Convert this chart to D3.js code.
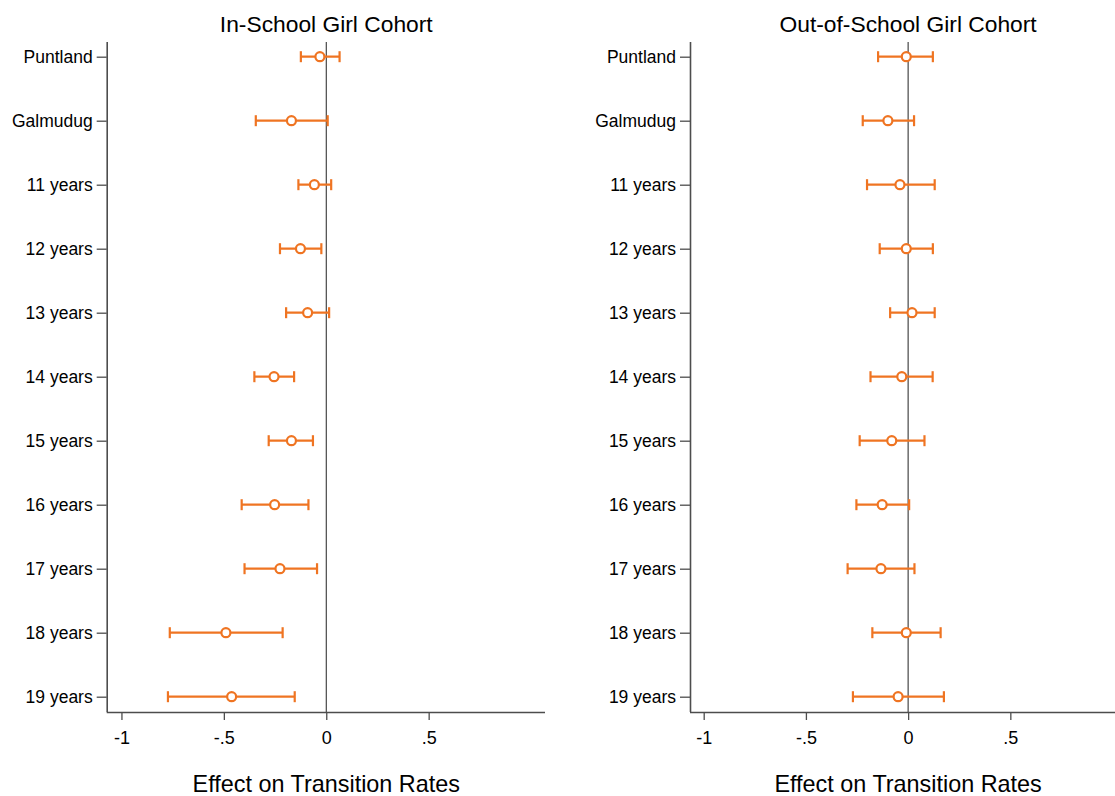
<!DOCTYPE html>
<html>
<head>
<meta charset="utf-8">
<script src="https://cdn.jsdelivr.net/npm/d3@7"></script>
<style>
  body { margin: 0; background: #fff; }
  svg { font-family: "Liberation Sans", Arial, sans-serif; }
</style>
</head>
<body>
<div id="graph"></div>
<script>
var categories = ['Puntland', 'Galmudug', '11 years', '12 years', '13 years', '14 years',
                  '15 years', '16 years', '17 years', '18 years', '19 years'];

var panelTitles = ['In-School Girl Cohort', 'Out-of-School Girl Cohort'];

// point estimates and 95% CI bounds
var inSchoolEst = [-0.031, -0.170, -0.058, -0.126, -0.091, -0.255, -0.170, -0.252, -0.226, -0.490, -0.462];
var inSchoolLo  = [-0.124, -0.344, -0.136, -0.226, -0.196, -0.351, -0.281, -0.413, -0.399, -0.764, -0.773];
var inSchoolHi  = [ 0.065,  0.007,  0.024, -0.024,  0.014, -0.157, -0.065, -0.087, -0.045, -0.213, -0.154];

var outSchoolEst = [-0.009, -0.099, -0.040, -0.009,  0.019, -0.031, -0.080, -0.127, -0.133, -0.009, -0.049];
var outSchoolLo  = [-0.147, -0.222, -0.201, -0.139, -0.088, -0.184, -0.237, -0.253, -0.296, -0.175, -0.270];
var outSchoolHi  = [ 0.121,  0.029,  0.130,  0.121,  0.130,  0.120,  0.080,  0.005,  0.031,  0.159,  0.175];

var xTicks = [-1, -0.5, 0, 0.5];
var xTickLabels = ['-1', '-.5', '0', '.5'];
var xTitle = 'Effect on Transition Rates';

window.addEventListener('DOMContentLoaded', function() {

  var w = 1115;
  var h = 796;
  var orange = '#ef7422';
  var axisColor = '#4d4d4d';

  var svg = d3.select('#graph')
              .append('svg')
              .attr('width', w)
              .attr('height', h);

  var yScale = d3.scalePoint()
                 .domain(categories)
                 .range([56.7, 696.7]);

  var panels = [
    { title: panelTitles[0], est: inSchoolEst, lo: inSchoolLo, hi: inSchoolHi,
      domain: [-1.072, 1.068], range: [106.7, 545] },
    { title: panelTitles[1], est: outSchoolEst, lo: outSchoolLo, hi: outSchoolHi,
      domain: [-1.067, 1.012], range: [690, 1115] }
  ];

  panels.forEach(function(p) { drawPanel(svg, p); });

  function drawPanel(el, p) {
    var xScale = d3.scaleLinear()
                   .domain(p.domain)
                   .range(p.range);
    var top = 42;
    var bottom = 712;
    var rows = categories.map(function(c, i) {
      return { cat: c, est: p.est[i], lo: p.lo[i], hi: p.hi[i] };
    });

    var g = el.append('g');

    // zero reference line
    g.append('line')
     .attr('x1', xScale(0)).attr('x2', xScale(0))
     .attr('y1', top).attr('y2', bottom)
     .attr('stroke', '#222')
     .attr('stroke-width', 1);

    // x axis
    var xAxis = d3.axisBottom(xScale)
                  .tickValues(xTicks)
                  .tickFormat(function(d, i) { return xTickLabels[i]; })
                  .tickSizeInner(8)
                  .tickSizeOuter(0)
                  .tickPadding(11);
    var xg = g.append('g')
              .attr('transform', `translate(0,${bottom})`)
              .call(xAxis);
    xg.select('.domain')
      .attr('d', `M${p.range[0]},0.5H${p.range[1]}`)
      .attr('stroke', axisColor)
      .attr('stroke-width', 1.6);
    xg.selectAll('.tick line').attr('stroke', axisColor).attr('stroke-width', 1.3);
    xg.selectAll('.tick text')
      .attr('font-size', 18)
      .attr('fill', '#000');

    // y axis
    var yAxis = d3.axisLeft(yScale)
                  .tickSizeInner(10)
                  .tickSizeOuter(0)
                  .tickPadding(4);
    var yg = g.append('g')
              .attr('transform', `translate(${p.range[0]},0)`)
              .call(yAxis);
    yg.select('.domain')
      .attr('d', `M0.5,${top}V${bottom}`)
      .attr('stroke', axisColor)
      .attr('stroke-width', 1.6);
    yg.selectAll('.tick line').attr('stroke', axisColor).attr('stroke-width', 1.3);
    yg.selectAll('.tick text')
      .attr('font-size', 17.5)
      .attr('fill', '#000');

    // error bars
    var bars = g.selectAll('.bar')
                .data(rows)
                .enter()
                .append('g')
                .attr('class', 'bar')
                .attr('stroke', orange)
                .attr('stroke-width', 2.2)
                .attr('fill', 'none');
    bars.append('line')
        .attr('x1', d => xScale(d.lo))
        .attr('x2', d => xScale(d.hi))
        .attr('y1', d => yScale(d.cat))
        .attr('y2', d => yScale(d.cat));
    bars.append('line')
        .attr('x1', d => xScale(d.lo))
        .attr('x2', d => xScale(d.lo))
        .attr('y1', d => yScale(d.cat) - 5.5)
        .attr('y2', d => yScale(d.cat) + 5.5);
    bars.append('line')
        .attr('x1', d => xScale(d.hi))
        .attr('x2', d => xScale(d.hi))
        .attr('y1', d => yScale(d.cat) - 5.5)
        .attr('y2', d => yScale(d.cat) + 5.5);
    bars.append('circle')
        .attr('cx', d => xScale(d.est))
        .attr('cy', d => yScale(d.cat))
        .attr('r', 4.5)
        .attr('fill', '#fff');

    var mid = xScale(0);
    // panel title
    g.append('text')
     .attr('x', mid)
     .attr('y', 32)
     .attr('text-anchor', 'middle')
     .attr('font-size', 22.8)
     .attr('fill', '#000')
     .text(p.title);

    // x axis title
    g.append('text')
     .attr('x', mid)
     .attr('y', 792)
     .attr('text-anchor', 'middle')
     .attr('font-size', 23.4)
     .attr('fill', '#000')
     .text(xTitle);
  }

});
</script>
</body>
</html>
